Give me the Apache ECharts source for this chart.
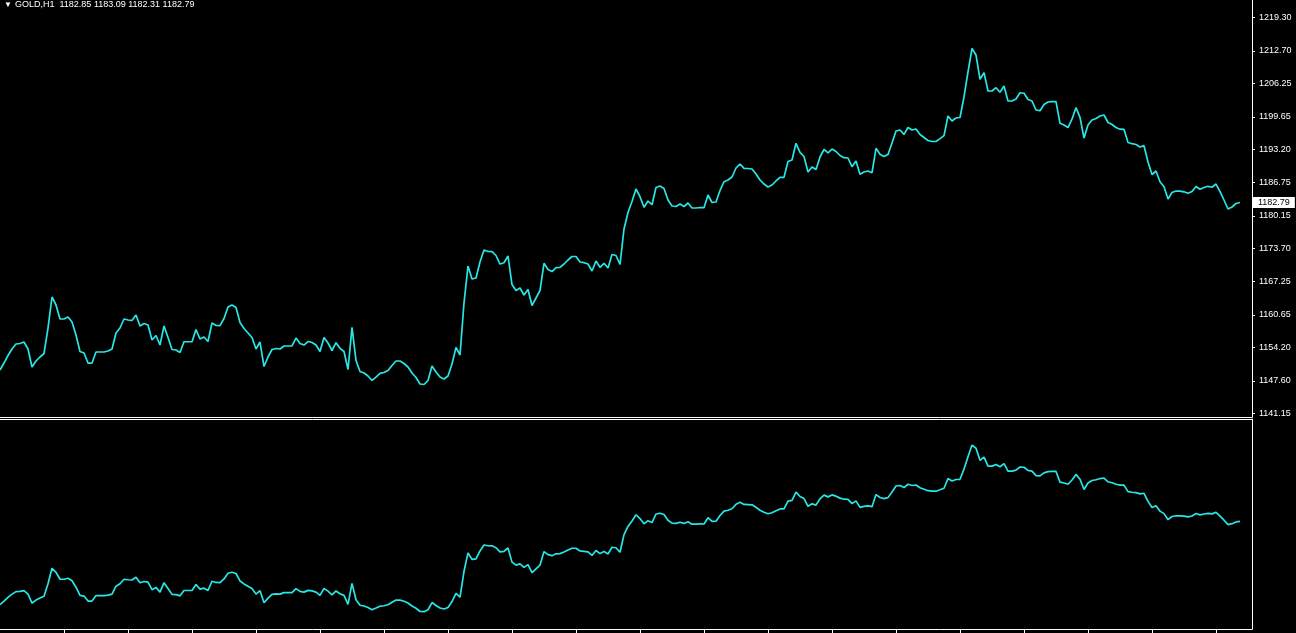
<!DOCTYPE html>
<html><head><meta charset="utf-8">
<script src="https://cdn.jsdelivr.net/npm/echarts@6/dist/echarts.min.js"></script>
<style>html,body{margin:0;padding:0;background:#000;overflow:hidden}#c{width:1296px;height:633px;}</style>
</head><body><div id="c"></div>
<script>
const symbolName = 'GOLD,H1';
const headerOHLC = [1182.85, 1183.09, 1182.31, 1182.79];
const priceTicks = [1141.15, 1147.60, 1154.20, 1160.65, 1167.25, 1173.70, 1180.15, 1186.75, 1193.20, 1199.65, 1206.25, 1212.70, 1219.30];
const closes = [
1149.76,1151.14,1152.62,1153.90,1154.89,1154.99,1155.28,1153.90,1150.36,1151.54,
1152.33,1153.02,1158.04,1164.16,1162.58,1159.82,1159.82,1160.21,1159.23,1156.66,
1153.41,1153.12,1151.14,1151.14,1153.31,1153.31,1153.31,1153.51,1153.90,1157.06,
1158.04,1159.82,1159.62,1159.52,1160.61,1158.44,1158.93,1158.64,1155.68,1156.57,
1154.69,1158.44,1156.17,1153.81,1153.71,1153.21,1155.34,1155.34,1155.34,1157.75,
1155.88,1156.27,1155.38,1159.03,1158.54,1158.50,1159.92,1162.18,1162.58,1162.09,
1159.13,1157.95,1157.06,1156.17,1153.90,1155.28,1150.45,1152.33,1153.81,1154.00,
1153.90,1154.50,1154.50,1154.50,1156.07,1154.99,1154.69,1155.38,1155.19,1154.69,
1153.41,1156.17,1155.09,1153.61,1155.15,1154.04,1153.41,1149.86,1158.18,1151.64,
1149.47,1149.17,1148.58,1147.70,1148.38,1149.11,1149.27,1149.67,1150.65,1151.54,
1151.54,1151.05,1150.36,1149.17,1148.29,1147.00,1146.91,1147.70,1150.55,1149.37,
1148.38,1147.99,1148.58,1150.95,1154.20,1152.72,1162.97,1170.27,1167.71,1167.90,
1171.06,1173.42,1173.13,1173.09,1172.34,1170.66,1170.92,1172.24,1166.62,1165.44,
1165.93,1164.55,1165.64,1162.48,1163.96,1165.44,1170.80,1169.58,1169.18,1169.93,
1170.01,1170.66,1171.45,1172.14,1172.14,1171.06,1170.92,1170.66,1169.28,1171.25,
1170.01,1170.80,1169.87,1172.54,1172.34,1170.56,1177.56,1180.82,1182.98,1185.45,
1183.93,1181.84,1183.08,1182.35,1185.74,1186.04,1185.55,1183.28,1182.10,1182.00,
1182.49,1182.00,1182.69,1181.70,1181.70,1181.80,1181.76,1184.27,1182.79,1182.89,
1185.15,1186.89,1187.22,1187.81,1189.59,1190.38,1189.53,1189.49,1189.39,1188.41,
1187.22,1186.43,1185.84,1186.24,1187.03,1187.76,1187.76,1190.87,1191.17,1194.46,
1192.68,1191.86,1188.80,1189.79,1189.29,1191.76,1193.24,1192.55,1193.33,1192.84,
1192.05,1191.62,1191.56,1189.85,1190.97,1188.37,1188.80,1189.00,1188.66,1193.47,
1192.29,1191.86,1192.25,1194.52,1196.88,1197.08,1196.23,1197.57,1197.08,1197.28,
1196.19,1195.60,1195.01,1194.81,1194.81,1195.37,1195.96,1199.84,1198.85,1199.45,
1199.54,1203.59,1208.52,1213.15,1211.87,1207.08,1208.38,1204.77,1204.77,1205.42,
1204.51,1205.76,1202.80,1202.80,1203.19,1204.43,1204.32,1203.09,1202.80,1201.02,
1200.89,1202.11,1202.60,1202.66,1202.66,1198.40,1198.07,1197.57,1199.25,1201.48,
1199.58,1195.50,1198.07,1199.05,1199.35,1199.84,1200.04,1198.56,1198.17,1197.57,
1197.24,1197.22,1194.62,1194.38,1194.22,1193.73,1193.99,1190.77,1188.31,1189.00,
1186.89,1185.90,1183.48,1184.76,1185.05,1185.02,1184.90,1184.60,1184.96,1185.94,
1185.39,1185.74,1185.98,1185.80,1186.43,1184.92,1183.28,1181.51,1181.90,1182.59,
1182.79
];
const barsAcross = 313;
const barsPerTimeTick = 16;

const CYAN = '#28e6e6';
const FONT = '"Liberation Sans", Arial, sans-serif';
const last = closes[closes.length - 1];
const pts = closes.map((v, i) => [i, v]);
const labelValues = priceTicks.concat([last]);
const timeTicks = [];
for (let t = barsPerTimeTick; t < barsAcross; t += barsPerTimeTick) timeTicks.push(t);

const chart = echarts.init(document.getElementById('c'), null, {renderer: 'canvas'});
chart.setOption({
  backgroundColor: '#000',
  animation: false,
  title: {
    left: 4, top: 0, padding: 0,
    text: '{a|▼}{b|' + symbolName + '  ' + headerOHLC.map(v => v.toFixed(2)).join(' ') + '}',
    textStyle: {
      fontWeight: 'normal',
      rich: {
        a: {fontSize: 8, color: '#fff', width: 11, fontFamily: FONT, lineHeight: 9, fontWeight: 'normal'},
        b: {fontSize: 9, color: '#fff', fontFamily: FONT, lineHeight: 9, fontWeight: 'normal'}
      }
    }
  },
  grid: [
    {left: 0, right: 44, top: 0, height: 417, outerBoundsMode: 'none', containLabel: false},
    {left: 0, right: 44, top: 419, height: 210, outerBoundsMode: 'none', containLabel: false}
  ],
  xAxis: [
    {type: 'value', gridIndex: 0, min: 0, max: barsAcross, position: 'bottom',
     axisLine: {show: true, onZero: false, lineStyle: {color: '#fff', width: 1}}, axisTick: {show: false},
     axisLabel: {show: false}, splitLine: {show: false}},
    {type: 'value', gridIndex: 1, min: 0, max: barsAcross, position: 'bottom',
     axisLine: {show: true, onZero: false, lineStyle: {color: '#fff', width: 1}},
     axisTick: {show: true, length: 4, customValues: timeTicks, lineStyle: {color: '#fff'}},
     axisLabel: {show: false}, splitLine: {show: false}},
    {type: 'value', gridIndex: 1, min: 0, max: barsAcross, position: 'top',
     axisLine: {show: true, onZero: false, lineStyle: {color: '#fff', width: 1}}, axisTick: {show: false},
     axisLabel: {show: false}, splitLine: {show: false}}
  ],
  yAxis: [
    {type: 'value', gridIndex: 0, position: 'right', min: 1140.50, max: 1222.71,
     axisLine: {show: true, onZero: false, lineStyle: {color: '#fff', width: 1}},
     axisTick: {show: true, length: 3, customValues: priceTicks, lineStyle: {color: '#fff'}},
     axisLabel: {show: true, customValues: labelValues, margin: 1, fontSize: 9, fontFamily: FONT,
                 formatter: v => Math.abs(v - last) < 1e-6 ? '{cur|' + v.toFixed(2) + '}' : '{n|' + v.toFixed(2) + '}',
                 rich: {
                   n: {color: '#fff', fontSize: 9, fontFamily: FONT, padding: [1, 5, 1, 6], lineHeight: 9},
                   cur: {color: '#000', backgroundColor: '#fff', fontSize: 9, fontFamily: FONT,
                         padding: [1, 5, 1, 5], lineHeight: 9}
                 }},
     splitLine: {show: false}},
    {type: 'value', gridIndex: 1, position: 'right', min: 1140.04, max: 1223.50,
     axisLine: {show: true, onZero: false, lineStyle: {color: '#fff', width: 1}},
     axisTick: {show: false}, axisLabel: {show: false}, splitLine: {show: false}}
  ],
  series: [
    {type: 'line', xAxisIndex: 0, yAxisIndex: 0, data: pts, showSymbol: false, symbol: 'none',
     lineStyle: {color: CYAN, width: 1.7}, silent: true},
    {type: 'line', xAxisIndex: 1, yAxisIndex: 1, data: pts, showSymbol: false, symbol: 'none',
     lineStyle: {color: CYAN, width: 1.7}, silent: true}
  ]
});
</script></body></html>
